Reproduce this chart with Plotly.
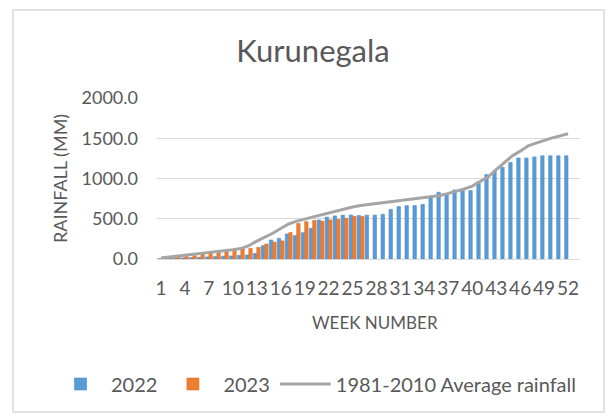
import plotly.graph_objects as go

weeks = [1, 2, 3, 4, 5, 6, 7, 8, 9, 10, 11, 12, 13, 14, 15, 16, 17, 18, 19, 20, 21, 22, 23, 24, 25, 26,
         27, 28, 29, 30, 31, 32, 33, 34, 35, 36, 37, 38, 39, 40, 41, 42, 43, 44, 45, 46, 47, 48, 49, 50, 51, 52]

rain_2022 = [3, 6, 10, 14, 18, 22, 26, 30, 34, 38, 45, 50, 70, 165, 236, 257, 311, 290, 327, 381,
             485, 520, 535, 545, 547, 540, 545, 545, 555, 615, 651, 663, 663, 678, 765, 829, 800, 858,
             852, 850, 962, 1048, 1094, 1140, 1200, 1255, 1255, 1268, 1282, 1282, 1282, 1282]

weeks_2023 = weeks[:26]
rain_2023 = [5, 12, 20, 30, 42, 60, 80, 85, 87, 105, 125, 133, 145, 186, 210, 225, 328, 442, 464, 480,
             470, 485, 493, 506, 530, 528]

avg_rain = [12, 26, 38, 50, 60, 70, 80, 90, 100, 115, 130, 165, 222, 270, 320, 378, 435, 470, 495, 525,
            545, 570, 595, 620, 645, 665, 678, 692, 705, 716, 728, 740, 750, 762, 774, 790, 815, 840,
            870, 905, 960, 1020, 1110, 1195, 1280, 1340, 1405, 1440, 1475, 1505, 1530, 1555]

tick_weeks = weeks[::3]
tick_labels = [str(w) for w in tick_weeks]

FONT = "Lato"
GREY = "#595959"

fig = go.Figure()
fig.add_trace(go.Bar(x=weeks, y=rain_2022, name="2022",
                     marker=dict(color="#5B9BD5", line=dict(color="#4F8CC9", width=0.6))))
fig.add_trace(go.Bar(x=weeks_2023, y=rain_2023, name="2023",
                     marker=dict(color="#ED7D31", line=dict(color="#E0702A", width=0.6))))
fig.add_trace(go.Scatter(x=weeks, y=avg_rain, name="1981-2010 Average rainfall", mode="lines",
                         line=dict(color="#A5A5A5", width=3)))

W, H = 616, 416
L, R, T, B = 157, 36, 98, 157
pw, ph = W - L - R, H - T - B

def px_x(x):
    return (x - L) / pw

def px_y(y):
    return (H - B - y) / ph

fig.update_layout(
    width=W, height=H,
    margin=dict(l=L, r=R, t=T, b=B, pad=0, autoexpand=False),
    paper_bgcolor="white", plot_bgcolor="white",
    barmode="group", bargap=0.14, bargroupgap=0.0,
    font=dict(family=FONT, color=GREY, size=18),
    title=dict(text="Kurunegala", x=313 / W, xanchor="center",
               y=1 - 51 / H, yanchor="middle", font=dict(size=31, color=GREY, family=FONT)),
    xaxis=dict(range=[0.5, 53.5], tickmode="array", tickvals=tick_weeks, ticktext=tick_labels,
               showgrid=False, showline=True, linecolor="#D9D9D9", linewidth=1, automargin=False,
               ticks="", ticklabelstandoff=12, tickangle=0,
               tickfont=dict(size=19, color=GREY, family=FONT), zeroline=False),
    yaxis=dict(range=[0, 2000], tickvals=[0, 500, 1000, 1500, 2000], tickformat=".1f",
               showgrid=True, gridcolor="#D9D9D9", gridwidth=1, zeroline=False, automargin=False,
               ticks="", ticklabelstandoff=18, tickfont=dict(size=18, color=GREY, family=FONT)),
    showlegend=True,
    legend=dict(orientation="h", xref="paper", yref="paper",
                x=px_x(50), xanchor="left", y=px_y(384), yanchor="middle",
                font=dict(size=20, color=GREY, family=FONT), bgcolor="rgba(0,0,0,0)",
                traceorder="normal", itemwidth=51),
    shapes=[dict(type="rect", xref="paper", yref="paper",
                 x0=px_x(13), x1=px_x(604), y0=px_y(412), y1=px_y(10),
                 line=dict(color="#D9D9D9", width=1.5), fillcolor="rgba(0,0,0,0)", layer="below")],
    annotations=[
        dict(text="RAINFALL (MM)", xref="paper", yref="paper", x=px_x(60), y=px_y(179),
             textangle=-90, showarrow=False, xanchor="center", yanchor="middle",
             font=dict(size=18, color=GREY, family=FONT)),
        dict(text="WEEK NUMBER", xref="paper", yref="paper", x=px_x(375), y=px_y(322),
             showarrow=False, xanchor="center", yanchor="middle",
             font=dict(size=17, color=GREY, family=FONT)),
    ],
)

fig.write_html("out.html", config={"displayModeBar": False},
               post_script="document.body.style.margin='0';")
